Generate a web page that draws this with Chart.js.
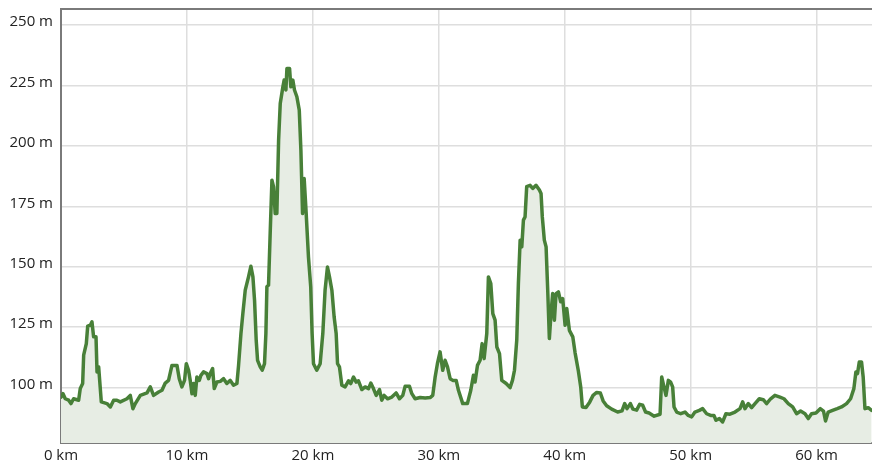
<!DOCTYPE html>
<html>
<head>
<meta charset="utf-8">
<script src="https://cdn.jsdelivr.net/npm/chart.js@4/dist/chart.umd.min.js"></script>
<style>
html,body{margin:0;padding:0;background:#fff;}
#wrap{width:872px;height:465px;position:relative;}
</style>
</head>
<body>
<div id="wrap"><canvas id="c" width="872" height="465"></canvas></div>
<script>
const distanceKm = [0,0.16,0.34,0.61,0.79,1.0,1.4,1.53,1.72,1.8,2.01,2.12,2.33,2.46,2.59,2.78,2.86,2.99,3.2,3.65,3.92,4.18,4.44,4.71,5.24,5.5,5.71,5.9,6.3,6.83,7.09,7.35,7.75,8.02,8.28,8.54,8.81,9.21,9.39,9.6,9.81,9.95,10.13,10.26,10.4,10.53,10.66,10.79,10.98,11.11,11.32,11.59,11.72,11.85,12.04,12.17,12.38,12.65,12.91,13.17,13.44,13.7,13.97,14.1,14.29,14.44,14.63,14.89,15.08,15.24,15.37,15.5,15.61,15.82,15.98,16.16,16.27,16.35,16.48,16.61,16.75,16.88,17.01,17.14,17.28,17.41,17.62,17.72,17.86,17.94,18.15,18.25,18.41,18.54,18.73,18.92,19.05,19.18,19.31,19.47,19.65,19.83,19.94,20.05,20.31,20.58,20.79,20.97,21.16,21.32,21.51,21.69,21.85,21.96,22.11,22.3,22.56,22.83,23.01,23.23,23.44,23.62,23.89,24.15,24.42,24.6,24.81,25.03,25.29,25.47,25.66,25.93,26.27,26.61,26.88,27.14,27.33,27.67,27.86,28.12,28.52,28.92,29.31,29.52,29.71,29.89,30.1,30.31,30.5,30.69,30.9,31.11,31.38,31.56,31.9,32.27,32.54,32.75,32.88,33.07,33.28,33.44,33.6,33.81,33.94,34.13,34.29,34.47,34.61,34.82,35,35.35,35.66,35.85,36.01,36.19,36.32,36.46,36.59,36.72,36.85,36.98,37.25,37.46,37.72,37.99,38.12,38.22,38.38,38.52,38.65,38.78,38.91,39.04,39.18,39.31,39.5,39.68,39.84,40.03,40.16,40.37,40.64,40.82,41.08,41.27,41.4,41.69,41.98,42.25,42.54,42.83,43.05,43.33,43.73,44.2,44.55,44.76,44.95,45.21,45.42,45.71,45.95,46.19,46.42,46.7,47.1,47.57,47.7,47.88,48.04,48.23,48.41,48.57,48.68,48.89,49.21,49.55,49.81,50.08,50.34,50.69,50.95,51.27,51.59,51.85,52.01,52.28,52.54,52.8,53.12,53.52,53.92,54.13,54.31,54.58,54.84,55.11,55.45,55.77,56.03,56.35,56.69,57.09,57.41,57.75,58.1,58.41,58.73,59.08,59.34,59.6,59.95,60.29,60.55,60.71,60.92,61.27,61.64,61.98,62.38,62.7,62.96,63.12,63.25,63.39,63.57,63.7,63.84,64.1,64.37];
const elevationM = [96.1,97.5,95.4,94.8,93.4,95.4,94.8,99.6,101.7,113.4,118.2,125.4,125.8,127.2,121,121,106.5,108.6,94.1,93.4,92,94.8,94.8,94.1,95.4,96.8,91.3,93.4,96.8,97.8,100.3,96.8,98.2,98.9,101.9,103,109.2,109.2,103.7,100.3,103,109.9,107.2,103,97.5,101.7,96.8,104.4,103,105.1,106.5,105.8,103.7,105.8,107.9,99.6,102.3,102.6,103.7,101.7,103,101,101.7,109.2,122.4,130.6,140.3,145.8,150.2,145.8,136.1,119.6,111.3,108.6,107.2,109.9,122.4,141.7,142.4,163.7,185.8,183,172,172,202.4,217.5,224.4,227.2,223.1,232,232,224.4,227.2,223.1,220.3,214.8,198.2,172,186.5,172,154.1,141.7,122.4,109.9,107.2,109.9,122.4,140.3,149.9,145.8,140.3,129.2,122.4,109.9,108.6,101,100.3,102.8,101.7,104.4,102.3,102.8,99.2,100.3,99.6,101.9,99.6,96.8,99.2,94.8,96.8,95.4,96.1,97.8,95.4,96.8,100.6,100.6,97.5,95.4,95.9,95.7,95.9,96.8,104.4,109.9,114.8,107.2,111.3,108.6,103.7,103,103,98.9,93.4,93.4,98.9,105.1,102.3,109.2,111.3,118.2,112,122.4,145.8,143,130.6,127.9,116.8,114.1,103,101.7,100,103,107.2,119.6,143,161,158.2,169.3,170.6,183.1,183.7,182.4,183.7,181.7,180.3,170.6,161,158.2,140.3,120.3,130.6,138.9,127.9,138.9,139.6,135.5,136.8,125.8,132.7,123.7,121,114.5,107,100.3,92,91.8,94,96.8,98,97.8,94.5,92.5,91.1,89.9,90.4,93.4,91.3,93.4,91.1,90.7,93.1,92.7,89.9,89.5,88.2,89,104.4,100.3,96.8,103,102.3,100.3,92,89.9,89.2,89.9,88.5,87.9,89.9,90.6,91.3,89.2,88.5,88.5,86.5,87.2,85.8,89.2,89,89.9,91.3,94.1,91.3,93.4,91.7,93.4,95.4,95,93.4,95.4,96.8,96.1,95.4,93.4,92,89.2,90.3,89.2,87.2,89.2,89.5,91.3,90.3,86.2,89.9,90.6,91.3,92,93.4,95.4,99.6,106.5,105.8,110.6,110.6,104.4,91.3,91.7,90.6];
const yTickValues = [100,125,150,175,200,225,250];
const xTickValues = [0,10,20,30,40,50,60];

const points = distanceKm.map((d,i)=>({x:d,y:elevationM[i]}));

const topBorder = {
  id:'topBorder',
  afterDraw(chart){
    const a = chart.chartArea, ctx = chart.ctx;
    ctx.save();
    ctx.strokeStyle = '#7a7a7a';
    ctx.lineWidth = 2;
    ctx.beginPath();
    ctx.moveTo(a.left, a.top);
    ctx.lineTo(a.right, a.top);
    ctx.stroke();
    ctx.restore();
  }
};

function noPad(s){ s.paddingTop=0; s.paddingBottom=0; s.paddingLeft=0; s.paddingRight=0; }

new Chart(document.getElementById('c'), {
  type:'line',
  data:{datasets:[{
    data:points,
    borderColor:'rgb(72,128,56)',
    backgroundColor:'rgb(231,237,228)',
    borderWidth:3.5,
    borderJoinStyle:'round',
    borderCapStyle:'round',
    fill:'start',
    pointRadius:0,
    tension:0
  }]},
  options:{
    responsive:false,
    animation:false,
    layout:{padding:{top:9,right:0,left:0,bottom:0}},
    plugins:{legend:{display:false},tooltip:{enabled:false}},
    scales:{
      x:{
        type:'linear',
        min:0,max:64.4,
        afterBuildTicks(s){ s.ticks = xTickValues.map(v=>({value:v})); },
        afterFit(s){ s.height = 22; noPad(s); },
        grid:{color:'#dedede',lineWidth:1.5,drawTicks:false},
        border:{color:'#7a7a7a',width:2},
        ticks:{padding:4,color:'#222',font:{family:'Open Sans',size:15},callback:v=>v+' km',maxRotation:0}
      },
      y:{
        min:77.1,max:256.6,
        afterBuildTicks(s){ s.ticks = yTickValues.map(v=>({value:v})); },
        afterFit(s){ s.width = 61; noPad(s); },
        grid:{color:'#dedede',lineWidth:1.5,drawTicks:false},
        border:{color:'#7a7a7a',width:2},
        ticks:{padding:8,labelOffset:-3,color:'#222',font:{family:'Open Sans',size:15},callback:v=>v+' m'}
      }
    }
  },
  plugins:[topBorder]
});
</script>
</body>
</html>
